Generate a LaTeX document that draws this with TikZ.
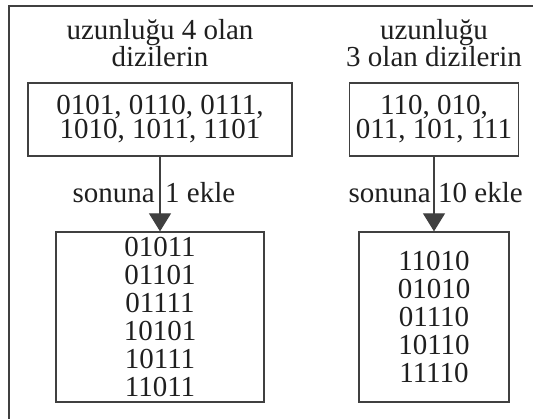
\documentclass[tikz,border=0pt]{standalone}
\usepackage{fontspec}
\setmainfont{Liberation Serif}
\usetikzlibrary{arrows.meta}
\begin{document}
\begin{tikzpicture}[x=1pt,y=-1pt,
  txt/.style={inner sep=0pt,font=\fontsize{29}{24}\selectfont,text=black!88},
  ttl/.style={txt,align=center},
  box/.style={draw=black!75,line width=1.3pt,inner sep=0pt,align=center,
     font=\fontsize{29}{24}\selectfont,text=black!88},
  bigbox/.style={box,font=\fontsize{29}{28}\selectfont},
  arr/.style={draw=black!75,line width=1.2pt,-{Triangle[width=22pt,length=18pt]}}]
\useasboundingbox (0,0) rectangle (533,419);
\draw[black!75,line width=2pt] (9,419) -- (9,6) -- (533,6);
% titles (base anchor = last line's baseline)
\node[ttl,anchor=base] (t1) at (160,67) {uzunluğu 4 olan\\dizilerin};
\node[ttl,anchor=base] (t2) at (434,67) {uzunluğu\\3 olan dizilerin};
% boxes
\node[box,minimum width=264pt,minimum height=73pt] (tl) at (160,119.5)
  {0101, 0110, 0111,\\1010, 1011, 1101};
\node[box,minimum width=169pt,minimum height=73pt] (tr) at (434,119.5)
  {110, 010,\\011, 101, 111};
\node[bigbox,minimum width=208pt,minimum height=170pt] (bl) at (160,317)
  {01011\\01101\\01111\\10101\\10111\\11011};
\node[bigbox,minimum width=150pt,minimum height=170pt] (br) at (434,317)
  {11010\\01010\\01110\\10110\\11110};
% arrows
\draw[arr] (tl.south) -- (bl.north);
\draw[arr] (tr.south) -- (br.north);
% labels
\node[txt,anchor=base east] (l1) at (155,203) {sonuna};
\node[txt,anchor=base west] (r1) at (165,203) {1 ekle};
\node[txt,anchor=base east] (l2) at (431,203) {sonuna};
\node[txt,anchor=base west] (r2) at (438,203) {10 ekle};
\end{tikzpicture}
\end{document}
